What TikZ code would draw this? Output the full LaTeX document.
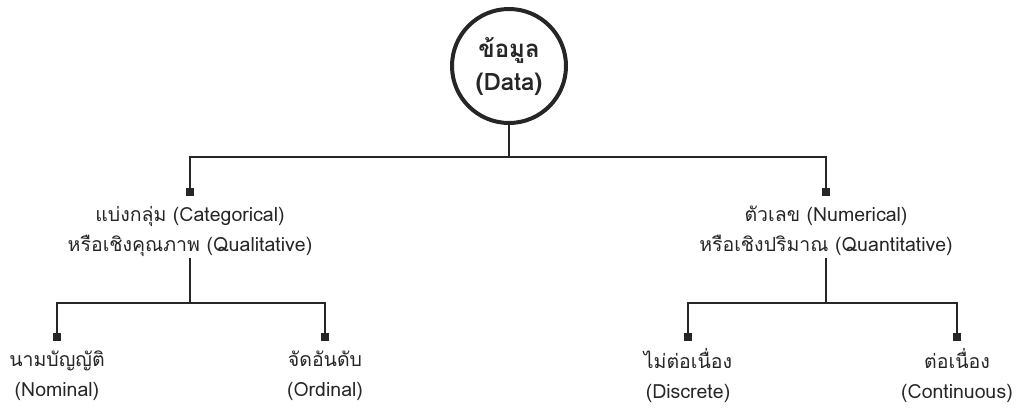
\documentclass[tikz,border=0pt]{standalone}
\usepackage{fontspec}
\newfontfamily\thaifont[Script=Thai]{Loma}
\definecolor{ink}{HTML}{262626}
\begin{document}
\begin{tikzpicture}[x=1pt,y=-1pt,
  every node/.style={font=\thaifont, text=ink},
  label/.style={align=center, font=\thaifont\fontsize{19.5}{30}\selectfont, inner sep=2pt},
  root/.style={circle, draw=ink, line width=4pt, minimum size=114pt, align=center,
               font=\thaifont\bfseries\fontsize{24}{33}\selectfont, inner sep=0pt},
  tip/.style={rectangle, fill=ink, minimum size=8.5pt, inner sep=0pt},
  wire/.style={draw=ink, line width=1.1pt}]
\useasboundingbox (0,0) rectangle (1022,408);

% root
\node[root] (data) at (509,66) {ข้อมูล\\(Data)};

% first level
\coordinate (j0) at (509,157);
\node[tip] (t1) at (190,192) {};
\node[tip] (t2) at (826,192) {};
\node[label] (cat) at (190,231) {แบ่งกลุ่ม (Categorical)\\หรือเชิงคุณภาพ (Qualitative)};
\node[label] (num) at (826,231) {ตัวเลข (Numerical)\\หรือเชิงปริมาณ (Quantitative)};

\draw[wire] (data.south) -- (j0);
\draw[wire] (j0) -| (t1);
\draw[wire] (j0) -| (t2);

% second level, categorical
\coordinate (j1) at (190,303);
\node[tip] (t11) at (57,337) {};
\node[tip] (t12) at (325,337) {};
\node[label] (nom) at (57,376) {นามบัญญัติ\\(Nominal)};
\node[label] (ord) at (325,376) {จัดอันดับ\\(Ordinal)};
\draw[wire] (cat.south) -- (j1);
\draw[wire] (j1) -| (t11);
\draw[wire] (j1) -| (t12);

% second level, numerical
\coordinate (j2) at (826,303);
\node[tip] (t21) at (688,337) {};
\node[tip] (t22) at (957,337) {};
\node[label] (dis) at (688,376) {ไม่ต่อเนื่อง\\(Discrete)};
\node[label] (con) at (957,376) {ต่อเนื่อง\\(Continuous)};
\draw[wire] (num.south) -- (j2);
\draw[wire] (j2) -| (t21);
\draw[wire] (j2) -| (t22);
\end{tikzpicture}
\end{document}
